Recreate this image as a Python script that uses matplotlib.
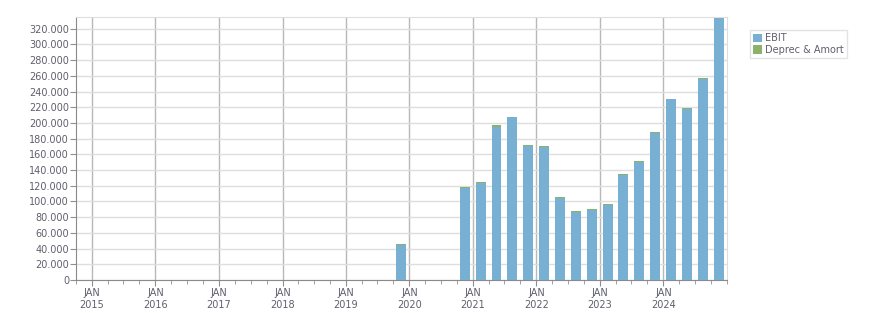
import numpy as np
import pandas as pd
import matplotlib
matplotlib.use("Agg")
import matplotlib.pyplot as plt
import matplotlib.dates as mdates
from matplotlib.ticker import FuncFormatter

# quarterly figures (quarter start dates)
quarters = ["2019-10-01",
            "2020-10-01", "2021-01-01", "2021-04-01", "2021-07-01",
            "2021-10-01", "2022-01-01", "2022-04-01", "2022-07-01",
            "2022-10-01", "2023-01-01", "2023-04-01", "2023-07-01",
            "2023-10-01", "2024-01-01", "2024-04-01", "2024-07-01",
            "2024-10-01"]
ebit = [44500,
        117500, 123500, 195500, 207000,
        170500, 169300, 104500, 86700,
        89200, 95500, 133700, 150500,
        187300, 230500, 218300, 256000,
        334000]
deprec = [1500,
          1500, 1500, 1500, 1000,
          1500, 1500, 1300, 1300,
          1300, 1500, 1400, 1200,
          1300, 300, 700, 1000,
          0]
years = list(range(2015, 2025))

blue = "#78b0d4"
green = "#8bb26b"
txt = "#5f5f6e"

start = pd.to_datetime(quarters)
centers = mdates.date2num(start + pd.Timedelta(days=45))
width = 57

fig = plt.figure(figsize=(8.76, 3.13), dpi=100)
ax = fig.add_axes([76/876, 33/313, (727-76)/876, (280-17)/313])

ax.bar(centers, ebit, width=width, color=blue, label="EBIT", zorder=3)
ax.bar(centers, deprec, width=width, bottom=ebit, color=green, label="Deprec & Amort", zorder=3)

ax.set_xlim(mdates.date2num(pd.Timestamp("2014-10-01")), mdates.date2num(pd.Timestamp("2025-01-01")))
ax.set_ylim(0, 335000)

ax.set_yticks(np.arange(0, 320001, 20000))
ax.yaxis.set_major_formatter(FuncFormatter(lambda v, p: f"{int(v):,}".replace(",", ".")))

major = mdates.date2num(pd.to_datetime([f"{y}-01-01" for y in years]))
ax.set_xticks(major)
ax.set_xticklabels([f"JAN\n{y}" for y in years])
minor = mdates.date2num(pd.date_range("2014-10-01", "2025-01-01", freq="QS"))
ax.set_xticks(minor, minor=True)

ax.grid(axis="y", color="#dedede", linewidth=1, zorder=0)
ax.grid(axis="x", which="major", color="#b8b8b8", linewidth=1, zorder=1)

ax.tick_params(axis="y", length=4, color="#909090", labelsize=7, labelcolor=txt, pad=1)
ax.tick_params(axis="x", which="major", length=4, color="#909090", labelsize=7, labelcolor=txt, pad=2)
ax.tick_params(axis="x", which="minor", length=3, color="#909090")

for s in ["left", "bottom"]:
    ax.spines[s].set_color("#8a8a8a")
for s in ["top", "right"]:
    ax.spines[s].set_color("#dedede")

leg = fig.legend(loc="upper left", bbox_to_anchor=(750/876, 1-30/313), fontsize=7,
                 frameon=True, fancybox=False, edgecolor="#dddddd",
                 handlelength=0.9, handleheight=0.9, handletextpad=0.3,
                 borderpad=0.35, labelspacing=0.15, borderaxespad=0)
for t in leg.get_texts():
    t.set_color(txt)

fig.savefig("out.png", dpi=100)
